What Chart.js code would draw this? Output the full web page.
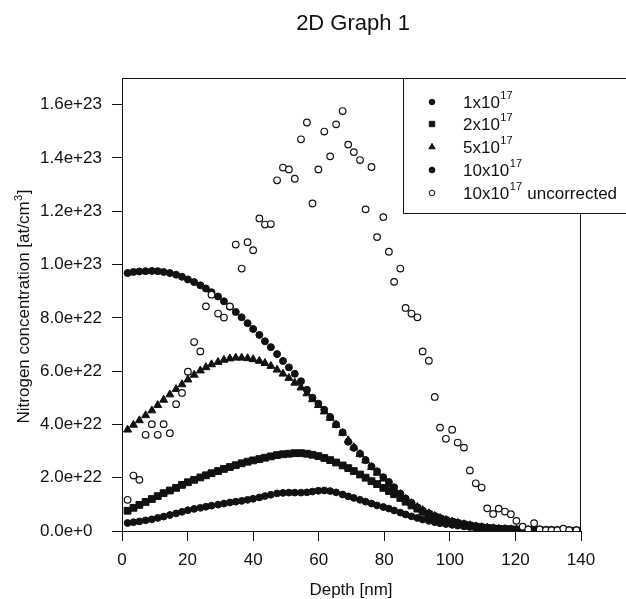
<!DOCTYPE html>
<html><head><meta charset="utf-8">
<script src="https://cdn.jsdelivr.net/npm/chart.js@4.4.1/dist/chart.umd.min.js"></script>
<style>html,body{margin:0;padding:0;background:#fff}canvas{display:block}</style>
</head><body>
<canvas id="c" width="626" height="599"></canvas>
<script>
// Depth [nm] of each measured point
const depth = [
  1.7, 3.5, 5.3, 7.2, 9.1, 10.9, 12.7, 14.6, 16.5, 18.3,
  20.1, 22.0, 23.9, 25.6, 27.3, 29.3, 31.1, 32.9, 34.7, 36.5,
  38.3, 40.0, 41.9, 43.6, 45.4, 47.3, 49.1, 50.9, 52.7, 54.6,
  56.4, 58.1, 59.9, 61.7, 63.5, 65.3, 67.3, 69.0, 70.7, 72.6,
  74.3, 76.1, 77.8, 79.7, 81.4, 83.0, 84.9, 86.5, 88.3, 90.1,
  91.7, 93.6, 95.4, 97.0, 98.8, 100.7, 102.4, 104.3, 106.1, 107.9,
  109.7, 111.4, 113.2, 114.9, 116.8, 118.6, 120.3, 122.2, 123.9, 125.7,
  127.4, 129.3, 131.0, 132.8, 134.6, 136.4, 138.6
];
// Nitrogen concentration, in units of 1e22 at/cm3
const conc1e17 = [
  0.30, 0.33, 0.36, 0.40, 0.44, 0.49, 0.54, 0.60, 0.66, 0.72,
  0.78, 0.83, 0.87, 0.91, 0.95, 0.99, 1.03, 1.07, 1.10, 1.13,
  1.17, 1.21, 1.26, 1.31, 1.36, 1.41, 1.43, 1.44, 1.44, 1.44,
  1.45, 1.48, 1.51, 1.52, 1.50, 1.45, 1.37, 1.30, 1.24, 1.17,
  1.10, 1.03, 0.96, 0.90, 0.84, 0.77, 0.69, 0.62, 0.55, 0.49,
  0.43, 0.38, 0.33, 0.29, 0.26, 0.23, 0.20, 0.17, 0.15, 0.13,
  0.11, 0.10, 0.08, 0.07, 0.06, 0.05, 0.05, 0.04, 0.03, 0.03,
  0.02, 0.02, 0.02, 0.01, 0.01, 0.01, 0.01
];
const conc2e17 = [
  0.76, 0.87, 0.98, 1.09, 1.20, 1.31, 1.42, 1.52, 1.62, 1.73,
  1.83, 1.92, 2.01, 2.09, 2.17, 2.25, 2.33, 2.40, 2.47, 2.54,
  2.60, 2.65, 2.70, 2.75, 2.80, 2.85, 2.88, 2.90, 2.92, 2.92,
  2.90, 2.86, 2.81, 2.74, 2.66, 2.57, 2.46, 2.36, 2.25, 2.12,
  2.00, 1.87, 1.76, 1.62, 1.50, 1.38, 1.24, 1.10, 0.96, 0.84,
  0.72, 0.62, 0.53, 0.46, 0.39, 0.33, 0.28, 0.24, 0.20, 0.16,
  0.13, 0.11, 0.09, 0.08, 0.07, 0.06, 0.05, 0.04, 0.03, 0.03,
  0.02, 0.02, 0.02, 0.01, 0.01, 0.01, 0.01
];
const conc5e17 = [
  3.80, 3.98, 4.15, 4.34, 4.52, 4.72, 4.92, 5.12, 5.32, 5.50,
  5.68, 5.86, 6.02, 6.14, 6.25, 6.34, 6.42, 6.47, 6.50, 6.50,
  6.48, 6.44, 6.38, 6.30, 6.19, 6.05, 5.90, 5.74, 5.56, 5.38,
  5.16, 4.94, 4.72, 4.48, 4.24, 3.98, 3.68, 3.40, 3.14, 2.88,
  2.64, 2.40, 2.18, 1.96, 1.76, 1.58, 1.38, 1.20, 1.04, 0.90,
  0.78, 0.66, 0.56, 0.48, 0.41, 0.35, 0.30, 0.25, 0.21, 0.17,
  0.14, 0.12, 0.10, 0.08, 0.07, 0.06, 0.05, 0.04, 0.04, 0.03,
  0.03, 0.02, 0.02, 0.02, 0.01, 0.01, 0.01
];
const conc10e17 = [
  9.68, 9.72, 9.74, 9.75, 9.76, 9.75, 9.72, 9.68, 9.62, 9.54,
  9.44, 9.34, 9.22, 9.10, 8.96, 8.80, 8.62, 8.42, 8.22, 8.02,
  7.80, 7.58, 7.36, 7.12, 6.90, 6.64, 6.38, 6.14, 5.90, 5.62,
  5.30, 5.00, 4.78, 4.55, 4.28, 4.00, 3.70, 3.35, 3.12, 2.90,
  2.66, 2.42, 2.24, 2.02, 1.84, 1.64, 1.40, 1.22, 1.06, 0.88,
  0.76, 0.66, 0.56, 0.48, 0.42, 0.36, 0.31, 0.26, 0.22, 0.18,
  0.15, 0.13, 0.11, 0.09, 0.08, 0.07, 0.06, 0.05, 0.04, 0.04,
  0.03, 0.03, 0.02, 0.02, 0.02, 0.01, 0.01
];
const conc10e17Uncorrected = [
  1.17, 2.08, 1.92, 3.61, 4.01, 3.61, 4.01, 3.67, 4.76, 5.18,
  5.98, 7.09, 6.74, 8.43, 8.87, 8.16, 8.01, 8.43, 10.75, 9.85,
  10.84, 10.54, 11.73, 11.50, 11.52, 13.16, 13.64, 13.57, 13.22, 14.70,
  15.33, 12.29, 13.57, 14.99, 14.06, 15.26, 15.76, 14.50, 14.22, 13.92,
  12.07, 13.66, 11.03, 11.78, 10.48, 9.35, 9.85, 8.37, 8.16, 8.02,
  6.74, 6.39, 5.03, 3.88, 3.46, 3.80, 3.32, 3.13, 2.27, 1.79,
  1.63, 0.85, 0.64, 0.84, 0.73, 0.63, 0.38, 0.16, 0.06, 0.29,
  0.06, 0.03, 0.03, 0.03, 0.09, 0.03, 0.03
];
const UNIT = 1e22;
const xTicks = [0, 20, 40, 60, 80, 100, 120, 140];
const yTicks = [0, 2e22, 4e22, 6e22, 8e22, 1.0e23, 1.2e23, 1.4e23, 1.6e23];
const yTickLabels = ['0.0e+0', '2.0e+22', '4.0e+22', '6.0e+22', '8.0e+22', '1.0e+23', '1.2e+23', '1.4e+23', '1.6e+23'];
const seriesNames = [
  {base: '1x10', sup: '17', tail: ''},
  {base: '2x10', sup: '17', tail: ''},
  {base: '5x10', sup: '17', tail: ''},
  {base: '10x10', sup: '17', tail: ''},
  {base: '10x10', sup: '17', tail: ' uncorrected'}
];
const chartTitle = '2D Graph 1';
const xTitle = 'Depth [nm]';
const yTitle = {base: 'Nitrogen concentration [at/cm', sup: '3', tail: ']'};

const FONT = "'Liberation Sans', Arial, sans-serif";
const INK = '#111';

function pts(vals) { return vals.map((v, i) => ({x: depth[i], y: v * UNIT})); }

const datasets = [
  {label: '1x10^17', data: pts(conc1e17), pointStyle: 'circle', pointRadius: 3.4, pointBackgroundColor: INK, pointBorderColor: INK, order: 1},
  {label: '2x10^17', data: pts(conc2e17), pointStyle: 'rect', pointRadius: 4.8, pointBackgroundColor: INK, pointBorderColor: INK, order: 1},
  {label: '5x10^17', data: pts(conc5e17), pointStyle: 'triangle', pointRadius: 4.6, pointBackgroundColor: INK, pointBorderColor: INK, order: 1},
  {label: '10x10^17', data: pts(conc10e17), pointStyle: 'circle', pointRadius: 3.5, pointBackgroundColor: INK, pointBorderColor: INK, order: 1},
  {label: '10x10^17 uncorrected', data: pts(conc10e17Uncorrected), pointStyle: 'circle', pointRadius: 3.3, pointBackgroundColor: '#fff', pointBorderColor: INK, pointBorderWidth: 1.2, order: 0}
];
datasets.forEach(d => { d.showLine = false; d.pointHoverRadius = d.pointRadius; if (d.pointBorderWidth == null) d.pointBorderWidth = 1; });

function drawSupText(ctx, item, x, y, size, align) {
  ctx.font = size + 'px ' + FONT;
  const wb = ctx.measureText(item.base).width;
  const wt = ctx.measureText(item.tail).width;
  const supSize = Math.round(size * 0.65);
  ctx.font = supSize + 'px ' + FONT;
  const ws = ctx.measureText(item.sup).width;
  let sx = x;
  if (align === 'center') sx = x - (wb + ws + wt) / 2;
  ctx.textAlign = 'left';
  ctx.font = size + 'px ' + FONT;
  ctx.fillText(item.base, sx, y);
  ctx.font = supSize + 'px ' + FONT;
  ctx.fillText(item.sup, sx + wb + 0.5, y - size * 0.42);
  ctx.font = size + 'px ' + FONT;
  ctx.fillText(item.tail, sx + wb + ws + 1, y);
}

const decor = {
  id: 'decor',
  afterDraw(chart) {
    const ctx = chart.ctx;
    const a = chart.chartArea;
    ctx.save();
    ctx.strokeStyle = INK;
    ctx.lineWidth = 1;
    // top and right frame
    ctx.beginPath();
    ctx.moveTo(a.left, a.top + 0.5); ctx.lineTo(a.right, a.top + 0.5);
    ctx.moveTo(a.right - 0.5, a.top); ctx.lineTo(a.right - 0.5, a.bottom);
    ctx.stroke();
    // legend box
    const lx = 403.5, ly = a.top + 0.5, lh = 135;
    ctx.fillStyle = '#fff';
    ctx.fillRect(lx, ly, 260, lh);
    ctx.beginPath();
    ctx.moveTo(660, ly); ctx.lineTo(lx, ly); ctx.lineTo(lx, ly + lh); ctx.lineTo(660, ly + lh);
    ctx.stroke();
    const rows = [102, 124, 147, 170, 193];
    const legendRadius = [2.8, 3.8, 3.6, 2.9, 2.8];
    chart.data.datasets.forEach((ds, i) => {
      ctx.fillStyle = ds.pointBackgroundColor;
      ctx.strokeStyle = INK;
      ctx.lineWidth = 1;
      Chart.helpers.drawPoint(ctx, {pointStyle: ds.pointStyle, radius: legendRadius[i], borderWidth: 1, rotation: 0}, 432, rows[i]);
      ctx.fillStyle = INK;
      ctx.textBaseline = 'middle';
      drawSupText(ctx, seriesNames[i], 463, rows[i] + 1, 17, 'left');
    });
    // chart title
    ctx.fillStyle = INK;
    ctx.textBaseline = 'alphabetic';
    ctx.textAlign = 'center';
    ctx.font = '22px ' + FONT;
    ctx.fillText(chartTitle, 353, 30);
    // x title
    ctx.font = '17px ' + FONT;
    ctx.fillText(xTitle, 351, 595);
    // y title
    ctx.save();
    ctx.translate(29, 307);
    ctx.rotate(-Math.PI / 2);
    ctx.textBaseline = 'alphabetic';
    drawSupText(ctx, yTitle, 0, 0, 17, 'center');
    ctx.restore();
    ctx.restore();
  }
};

new Chart(document.getElementById('c'), {
  type: 'scatter',
  data: {datasets},
  options: {
    responsive: false,
    devicePixelRatio: 1,
    animation: false,
    events: [],
    layout: {padding: {left: 40, top: 78, right: 45, bottom: 0}},
    plugins: {legend: {display: false}, tooltip: {enabled: false}, title: {display: false}},
    scales: {
      x: {
        type: 'linear', position: 'bottom', min: 0, max: 140,
        afterFit(s) { s.height = 68; },
        afterBuildTicks(s) { s.ticks = xTicks.map(v => ({value: v})); },
        ticks: {font: {size: 17, family: FONT}, color: INK, padding: 9, maxRotation: 0, autoSkip: false},
        grid: {drawOnChartArea: false, drawTicks: true, tickLength: 10, color: INK, lineWidth: 1},
        border: {display: true, color: INK, width: 1}
      },
      y: {
        type: 'linear', position: 'left', min: 0, max: 1.7e23,
        afterFit(s) { s.width = 82; },
        afterBuildTicks(s) { s.ticks = yTicks.map(v => ({value: v})); },
        ticks: {
          font: {size: 17, family: FONT}, color: INK, padding: 10, crossAlign: 'far', autoSkip: false,
          callback(v) { const i = yTicks.indexOf(v); return i >= 0 ? yTickLabels[i] : ''; }
        },
        grid: {drawOnChartArea: false, drawTicks: true, tickLength: 10, color: INK, lineWidth: 1},
        border: {display: true, color: INK, width: 1}
      }
    }
  },
  plugins: [decor]
});
</script>
</body></html>
